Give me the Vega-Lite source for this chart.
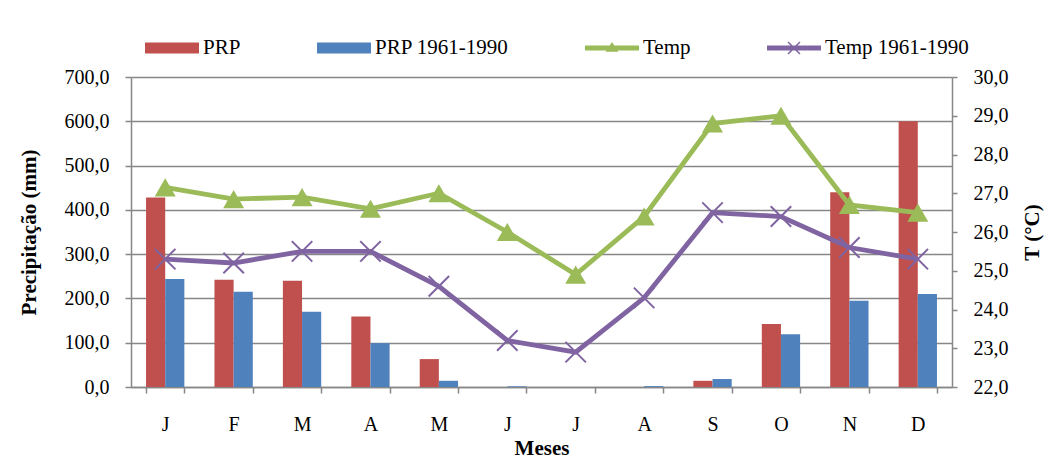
{
  "$schema": "https://vega.github.io/schema/vega-lite/v6.json",
  "width": 821,
  "height": 310,
  "autosize": "none",
  "padding": {"left": 131, "top": 77, "right": 104, "bottom": 72},
  "background": "white",
  "config": {
    "font": "Liberation Serif",
    "view": {"stroke": null},
    "axis": {
      "labelFont": "Liberation Serif",
      "titleFont": "Liberation Serif",
      "labelColor": "black",
      "titleColor": "black",
      "labelFontSize": 20,
      "titleFontSize": 21,
      "titleFontWeight": "bold",
      "domainColor": "#878787",
      "domainWidth": 1.5,
      "tickColor": "#878787",
      "tickWidth": 1.5,
      "gridColor": "#878787",
      "gridWidth": 1.3
    }
  },
  "data": {
    "values": [
      {"mes": "Jan", "serie": "PRP", "valor": 428},
      {"mes": "Fev", "serie": "PRP", "valor": 242},
      {"mes": "Mar", "serie": "PRP", "valor": 240},
      {"mes": "Abr", "serie": "PRP", "valor": 159},
      {"mes": "Mai", "serie": "PRP", "valor": 63},
      {"mes": "Jun", "serie": "PRP", "valor": 0},
      {"mes": "Jul", "serie": "PRP", "valor": 0},
      {"mes": "Ago", "serie": "PRP", "valor": 0},
      {"mes": "Set", "serie": "PRP", "valor": 14},
      {"mes": "Out", "serie": "PRP", "valor": 142},
      {"mes": "Nov", "serie": "PRP", "valor": 440},
      {"mes": "Dez", "serie": "PRP", "valor": 600},
      {"mes": "Jan", "serie": "PRP 1961-1990", "valor": 244},
      {"mes": "Fev", "serie": "PRP 1961-1990", "valor": 215},
      {"mes": "Mar", "serie": "PRP 1961-1990", "valor": 170},
      {"mes": "Abr", "serie": "PRP 1961-1990", "valor": 99},
      {"mes": "Mai", "serie": "PRP 1961-1990", "valor": 14},
      {"mes": "Jun", "serie": "PRP 1961-1990", "valor": 1.5},
      {"mes": "Jul", "serie": "PRP 1961-1990", "valor": 0},
      {"mes": "Ago", "serie": "PRP 1961-1990", "valor": 2},
      {"mes": "Set", "serie": "PRP 1961-1990", "valor": 18},
      {"mes": "Out", "serie": "PRP 1961-1990", "valor": 119},
      {"mes": "Nov", "serie": "PRP 1961-1990", "valor": 195},
      {"mes": "Dez", "serie": "PRP 1961-1990", "valor": 210},
      {"mes": "Jan", "serie": "Temp", "valor": 27.15},
      {"mes": "Fev", "serie": "Temp", "valor": 26.85},
      {"mes": "Mar", "serie": "Temp", "valor": 26.9},
      {"mes": "Abr", "serie": "Temp", "valor": 26.6},
      {"mes": "Mai", "serie": "Temp", "valor": 27.0},
      {"mes": "Jun", "serie": "Temp", "valor": 26.0},
      {"mes": "Jul", "serie": "Temp", "valor": 24.9},
      {"mes": "Ago", "serie": "Temp", "valor": 26.4},
      {"mes": "Set", "serie": "Temp", "valor": 28.8},
      {"mes": "Out", "serie": "Temp", "valor": 29.0},
      {"mes": "Nov", "serie": "Temp", "valor": 26.7},
      {"mes": "Dez", "serie": "Temp", "valor": 26.5},
      {"mes": "Jan", "serie": "Temp 1961-1990", "valor": 25.3},
      {"mes": "Fev", "serie": "Temp 1961-1990", "valor": 25.2},
      {"mes": "Mar", "serie": "Temp 1961-1990", "valor": 25.5},
      {"mes": "Abr", "serie": "Temp 1961-1990", "valor": 25.5},
      {"mes": "Mai", "serie": "Temp 1961-1990", "valor": 24.6},
      {"mes": "Jun", "serie": "Temp 1961-1990", "valor": 23.2},
      {"mes": "Jul", "serie": "Temp 1961-1990", "valor": 22.9},
      {"mes": "Ago", "serie": "Temp 1961-1990", "valor": 24.3},
      {"mes": "Set", "serie": "Temp 1961-1990", "valor": 26.5},
      {"mes": "Out", "serie": "Temp 1961-1990", "valor": 26.4},
      {"mes": "Nov", "serie": "Temp 1961-1990", "valor": 25.6},
      {"mes": "Dez", "serie": "Temp 1961-1990", "valor": 25.3}
    ]
  },
  "encoding": {
    "x": {
      "field": "mes",
      "type": "ordinal",
      "sort": ["Jan", "Fev", "Mar", "Abr", "Mai", "Jun", "Jul", "Ago", "Set", "Out", "Nov", "Dez"],
      "scale": {"paddingInner": 0.44, "paddingOuter": 0.22},
      "axis": {
        "title": "Meses",
        "labelExpr": "substring(datum.label, 0, 1)",
        "labelAngle": 0,
        "tickBand": "extent",
        "tickSize": 6,
        "labelPadding": 21,
        "titlePadding": 3
      }
    }
  },
  "layer": [
    {
      "transform": [{"filter": "datum.serie === 'PRP' || datum.serie === 'PRP 1961-1990'"}],
      "mark": {"type": "bar"},
      "encoding": {
        "y": {
          "field": "valor",
          "type": "quantitative",
          "scale": {"domain": [0, 700], "nice": false},
          "axis": {
            "orient": "left",
            "title": "Precipitação (mm)",
            "values": [0, 100, 200, 300, 400, 500, 600, 700],
            "labelExpr": "replace(format(datum.value, '.1f'), '.', ',')",
            "grid": true,
            "tickSize": 6,
            "labelPadding": 16,
            "titlePadding": 25
          }
        },
        "xOffset": {
          "field": "serie",
          "type": "nominal",
          "scale": {"domain": ["PRP", "PRP 1961-1990"], "paddingInner": 0, "paddingOuter": 0}
        },
        "color": {
          "field": "serie",
          "type": "nominal",
          "scale": {
            "domain": ["PRP", "PRP 1961-1990", "Temp", "Temp 1961-1990"],
            "range": ["#C0504D", "#4F81BD", "#9BBB59", "#8064A2"]
          },
          "legend": {
            "orient": "none",
            "legendX": 14,
            "legendY": -56,
            "direction": "horizontal",
            "title": null,
            "symbolSize": 2916,
            "labelFont": "Liberation Serif",
            "labelFontSize": 21,
            "labelColor": "black",
            "labelOffset": 4,
            "columnPadding": 76,
            "labelLimit": 400,
            "encode": {
              "symbols": {
                "update": {
                  "shape": {"signal": "datum.value === 'Temp' ? 'M-1,-0.09H1V0.09H-1Z M-0.24,0.14L0,-0.22L0.24,0.14Z' : datum.value === 'Temp 1961-1990' ? 'M-1,-0.09H1V0.09H-1Z M-0.24,-0.2L-0.2,-0.24L0.24,0.2L0.2,0.24Z M0.2,-0.24L0.24,-0.2L-0.2,0.24L-0.24,0.2Z' : 'M-1,-0.2H1V0.2H-1Z'"},
                  "fill": {"scale": "color", "field": "value"},
                  "stroke": {"value": "transparent"},
                  "strokeWidth": {"value": 0},
                  "opacity": {"value": 1},
                  "fillOpacity": {"value": 1}
                }
              }
            }
          }
        }
      }
    },
    {
      "transform": [{"filter": "datum.serie === 'Temp' || datum.serie === 'Temp 1961-1990'"}],
      "encoding": {
        "y": {
          "field": "valor",
          "type": "quantitative",
          "scale": {"domain": [22, 30], "nice": false, "zero": false},
          "axis": {
            "orient": "right",
            "title": "T (°C)",
            "values": [22, 23, 24, 25, 26, 27, 28, 29, 30],
            "labelExpr": "replace(format(datum.value, '.1f'), '.', ',')",
            "grid": false,
            "tickSize": 5,
            "labelPadding": 16,
            "titleAngle": 270,
            "titleBaseline": "top",
            "titlePadding": 13
          }
        },
        "color": {"field": "serie", "type": "nominal", "legend": null}
      },
      "layer": [
        {
          "mark": {"type": "line", "strokeWidth": 4.8}
        },
        {
          "transform": [{"filter": "datum.serie === 'Temp'"}],
          "mark": {"type": "point", "shape": "triangle-up", "filled": true, "size": 441, "opacity": 1}
        },
        {
          "transform": [{"filter": "datum.serie === 'Temp 1961-1990'"}],
          "mark": {"type": "point", "shape": "M-1,-1L1,1M-1,1L1,-1", "filled": false, "size": 420, "strokeWidth": 2, "opacity": 1}
        }
      ]
    }
  ],
  "resolve": {"scale": {"y": "independent"}}
}
